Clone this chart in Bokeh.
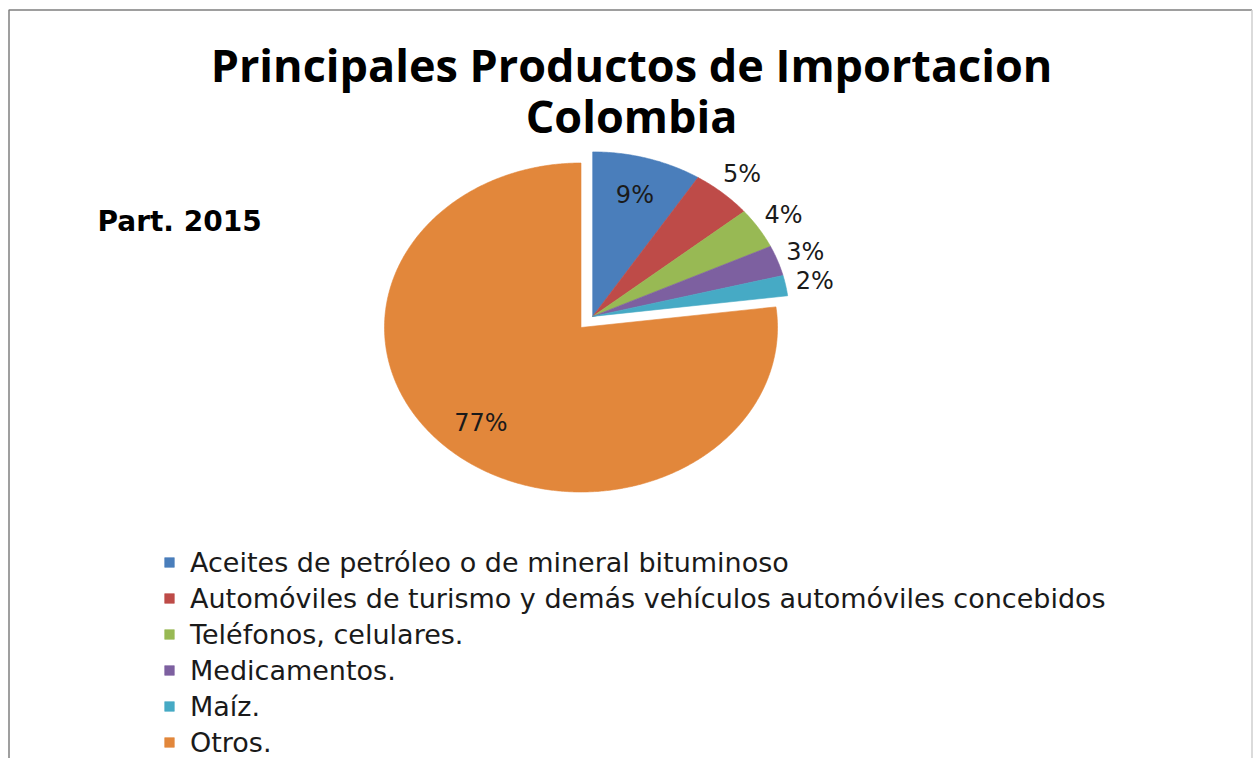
import numpy as np
from bokeh.plotting import figure
from bokeh.models import Range1d, Legend, LegendItem, ColumnDataSource
from bokeh.core.properties import value
from bokeh.embed import file_html
from bokeh.resources import INLINE

# ---------------- data ----------------
title_lines = ["Principales Productos de Importacion", "Colombia"]
subtitle = "Part. 2015"
categories = [
    "Aceites de petróleo o de mineral bituminoso",
    "Automóviles de turismo y demás vehículos automóviles concebidos",
    "Teléfonos, celulares.",
    "Medicamentos.",
    "Maíz.",
    "Otros.",
]
shares = [9, 5, 4, 3, 2, 77]
pct_labels = ["9%", "5%", "4%", "3%", "2%", "77%"]
exploded = [True, True, True, True, True, False]
label_inside = [True, False, False, False, False, True]
colors = ["#4A7EBB", "#BE4B48", "#98B954", "#7D60A0", "#46AAC5", "#E2873B"]

# ---------------- layout / style ----------------
W, H = 1253, 758
CX, CY = 580.5, 327.0          # pie centre (px)
RX, RY = 196.5, 164.5          # elliptical radii (px)
EXPLODE = 0.09                 # offset of the exploded group (fraction of radius)
R_IN, R_OUT = 0.77, 1.15       # label radial positions
TITLE_FONT = "Open Sans"
FONT = "DejaVu Sans"

p = figure(width=W, height=H, x_range=Range1d(0, W), y_range=Range1d(H, 0),
           output_backend="svg", toolbar_location=None, min_border=0,
           x_axis_location=None, y_axis_location=None)
p.grid.visible = False
p.outline_line_color = None
p.background_fill_color = "white"
p.border_fill_color = "white"

# chart-area border (left + top, faint right)
p.line(x=[8.5, 8.5, 1251.5], y=[H, 9.5, 9.5], line_color="#7f7f7f", line_width=1.5)
p.line(x=[1251.5, 1251.5], y=[9.5, H], line_color="#cfcfcf", line_width=1.5)

# ---------------- pie geometry from data ----------------
vals = np.array(shares, dtype=float)
frac = vals / vals.sum()
ends = np.cumsum(frac) * 2 * np.pi
starts = ends - frac * 2 * np.pi
mids = (starts + ends) / 2

ex = np.array(exploded)
group_mid = (starts[ex].min() + ends[ex].max()) / 2
ox = EXPLODE * RX * np.sin(group_mid)
oy = -EXPLODE * RY * np.cos(group_mid)

xs, ys, lx, ly = [], [], [], []
for i in range(len(vals)):
    cx = CX + (ox if exploded[i] else 0.0)
    cy = CY + (oy if exploded[i] else 0.0)
    n = max(3, int(frac[i] * 720))
    t = np.linspace(starts[i], ends[i], n)
    xs.append(np.concatenate([[cx], cx + RX * np.sin(t)]))
    ys.append(np.concatenate([[cy], cy - RY * np.cos(t)]))
    f = R_IN if label_inside[i] else R_OUT
    lx.append(cx + f * RX * np.sin(mids[i]))
    ly.append(cy - f * RY * np.cos(mids[i]))

src = ColumnDataSource(dict(xs=xs, ys=ys, color=colors, cat=categories))
pie = p.patches(xs="xs", ys="ys", fill_color="color", line_color="color",
                line_width=0.6, source=src)

p.text(x=lx, y=ly, text=pct_labels, text_font=value(FONT), text_font_size="24px",
       text_color="#1a1a1a", text_align="center", text_baseline="middle")

# ---------------- titles ----------------
p.text(x=[631, 631], y=[64, 115], text=title_lines, text_font=value(TITLE_FONT),
       text_font_style="bold", text_font_size="45px", text_color="#000000",
       text_align="center", text_baseline="middle")
p.text(x=[97], y=[221], text=[subtitle], text_font=value(FONT),
       text_font_style="bold", text_font_size="28px", text_color="#000000",
       text_align="left", text_baseline="middle")

# ---------------- legend ----------------
ROW = 36
FIRST_ROW = 562
items = [LegendItem(label=c, renderers=[pie], index=i) for i, c in enumerate(categories)]
legend = Legend(items=items, location=(163, H - (FIRST_ROW - ROW / 2) - ROW * len(items)),
                orientation="vertical",
                glyph_width=12, glyph_height=12, label_height=ROW, spacing=0,
                padding=0, margin=0, label_standoff=15,
                label_text_font=FONT, label_text_font_size="27px",
                label_text_color="#1a1a1a",
                border_line_color=None, background_fill_alpha=0)
p.add_layout(legend, "center")

open("out.html", "w").write(file_html(p, INLINE))
